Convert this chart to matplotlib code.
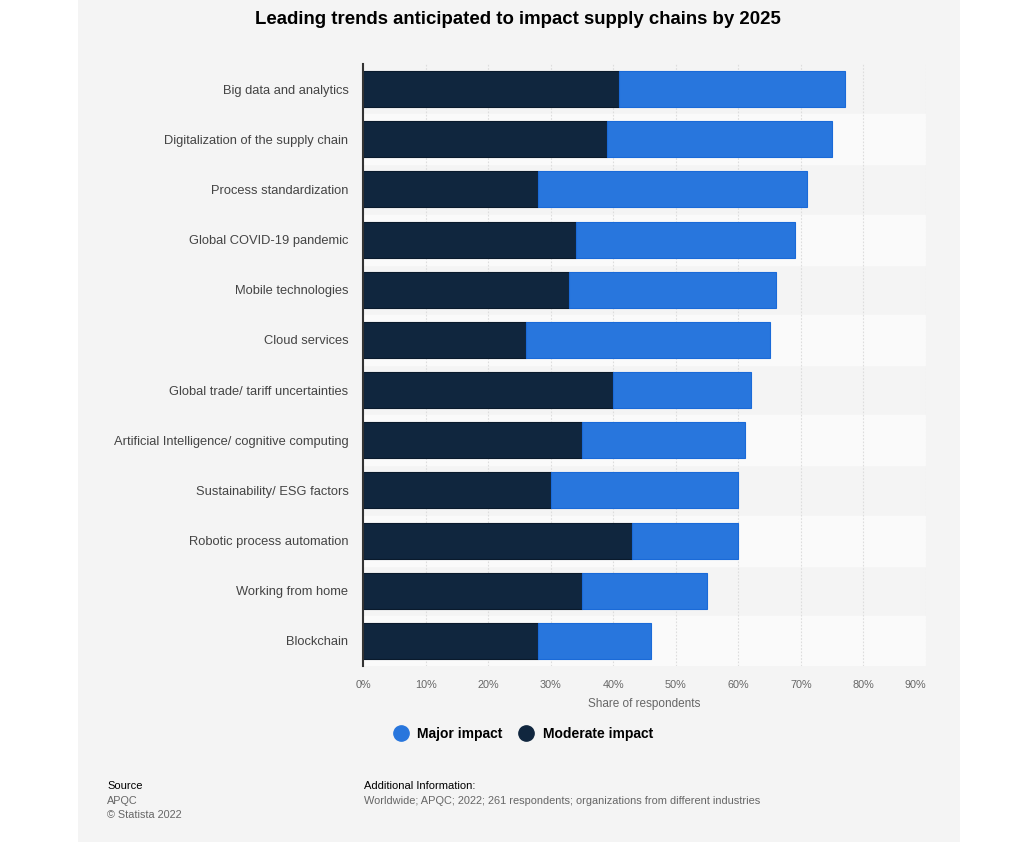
import matplotlib.pyplot as plt
from matplotlib.lines import Line2D
from matplotlib.patches import Rectangle

trends = ["Big data and analytics", "Digitalization of the supply chain", "Process standardization",
          "Global COVID-19 pandemic", "Mobile technologies", "Cloud services",
          "Global trade/ tariff uncertainties", "Artificial Intelligence/ cognitive computing",
          "Sustainability/ ESG factors", "Robotic process automation", "Working from home", "Blockchain"]
moderate = [41, 39, 28, 34, 33, 26, 40, 35, 30, 43, 35, 28]
major = [36, 36, 43, 35, 33, 39, 22, 26, 30, 17, 20, 18]
xticks = [0, 10, 20, 30, 40, 50, 60, 70, 80, 90]

plt.rcParams['font.family'] = ['Liberation Sans', 'DejaVu Sans']

fig = plt.figure(figsize=(10.24, 8.42), dpi=100)
fig.patch.set_facecolor("white")
# grey panel behind everything
fig.patches.append(Rectangle((78/1024, 0), (960-78)/1024, 1, transform=fig.transFigure,
                             facecolor="#f4f4f4", edgecolor="none", zorder=-10))

ax = fig.add_axes([363/1024, 1-666/842, 563/1024, 602/842])
ax.set_zorder(2)
ax.set_facecolor("none")

n = len(trends)
ypos = list(range(n))
for i in ypos:
    if i % 2 == 1:
        ax.axhspan(i-0.5, i+0.5, color="#fafafa", zorder=0)

ax.barh(ypos, moderate, height=0.72, color="#10263e", edgecolor="#0a1a2c", linewidth=0.8, zorder=3)
ax.barh(ypos, major, left=moderate, height=0.72, color="#2876dd", edgecolor="#1a6ad8", linewidth=0.8, zorder=3)

ax.set_ylim(n-0.5, -0.5)
ax.set_xlim(0, 90)
ax.set_yticks(ypos)
ax.set_yticklabels(trends, fontsize=9.3, color="#444444")
ax.set_xticks(xticks)
xlabels = ax.set_xticklabels([f"{t}%" for t in xticks], fontsize=7.8, color="#666666")
xlabels[-1].set_horizontalalignment("right")  # last label kept inside the plot
ax.tick_params(axis="both", length=0)
ax.tick_params(axis="y", pad=10.5)
ax.tick_params(axis="x", pad=10)
ax.xaxis.grid(True, color="#dddddd", linestyle=(0, (1.5, 1.5)), linewidth=0.8, zorder=1)
ax.set_axisbelow(True)
for s in ["top", "right", "bottom"]:
    ax.spines[s].set_visible(False)
ax.spines["left"].set_color("#333333")
ax.spines["left"].set_linewidth(1.5)
ax.spines["left"].set_zorder(4)
ax.set_xlabel("Share of respondents", fontsize=8.5, color="#666666", labelpad=6)

fig.text(518/1024, 1-20/842, "Leading trends anticipated to impact supply chains by 2025",
         ha="center", va="center", fontsize=13.4, fontweight="bold", color="#000000")

handles = [Line2D([], [], marker="o", linestyle="none", markersize=11, color="#2876dd"),
           Line2D([], [], marker="o", linestyle="none", markersize=11, color="#10263e")]
fig.legend(handles, ["Major impact", "Moderate impact"], loc="center",
           bbox_to_anchor=(520/1024, 1-734/842), ncol=2, frameon=False,
           prop={"weight": "bold", "size": 10}, handletextpad=0.2, columnspacing=0.7)

fig.text(107/1024, 1-786/842, "Source", fontsize=8, color="#000000", va="center")
fig.text(107/1024, 1-801/842, "APQC", fontsize=7.8, color="#666666", va="center")
fig.text(107/1024, 1-815/842, "© Statista 2022", fontsize=7.8, color="#666666", va="center")
fig.text(364/1024, 1-786/842, "Additional Information:", fontsize=8, color="#000000", va="center")
fig.text(364/1024, 1-801/842, "Worldwide; APQC; 2022; 261 respondents; organizations from different industries",
         fontsize=7.9, color="#666666", va="center")

fig.savefig("out.png", dpi=100)
